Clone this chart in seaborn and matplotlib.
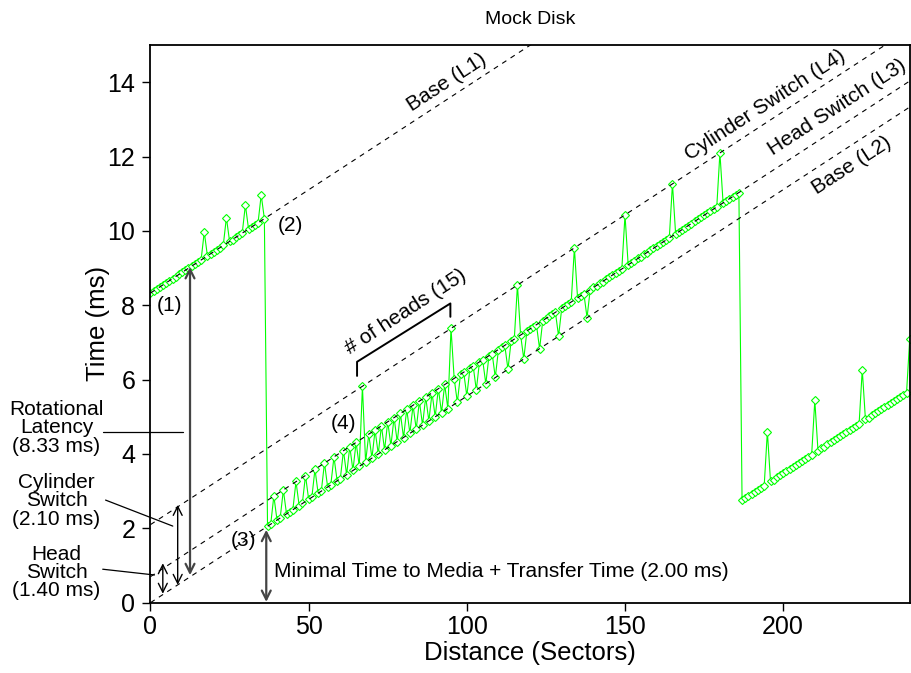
import numpy as np
import pandas as pd
import matplotlib.pyplot as plt
import seaborn as sns

sns.set_style("ticks")
plt.rcParams['font.family'] = ['Liberation Sans', 'DejaVu Sans']
plt.rcParams['text.color'] = 'black'
plt.rcParams['axes.labelcolor'] = 'black'
plt.rcParams['xtick.color'] = 'black'
plt.rcParams['ytick.color'] = 'black'

# distance (sectors) and measured time (ms), one point per sector
distance = np.arange(0, 241)

# 0..36 : too close, one full rotation (on L1)
time_a = [8.33, 8.39, 8.44, 8.50, 8.55, 8.61, 8.66, 8.72, 8.77, 8.83,
          8.89, 8.94, 9.00, 9.05, 9.11, 9.16, 9.22, 9.97, 9.33, 9.39,
          9.44, 9.50, 9.55, 9.61, 10.36, 9.72, 9.77, 9.83, 9.89, 9.94,
          10.70, 10.05, 10.11, 10.16, 10.22, 10.97, 10.33]
# 37..186 : L2 / L3 zigzag with cylinder switch spikes
time_b = [2.06, 2.11, 2.87,
          2.22, 2.28, 3.03, 2.39, 2.44, 2.50, 3.26, 2.61, 2.67, 3.42,
          2.78, 2.83, 3.59, 2.94, 3.00, 3.76, 3.11, 3.17, 3.92, 3.28,
          3.33, 4.09, 3.44, 4.20, 3.56, 4.31, 3.67, 5.82, 3.78, 4.53,
          3.89, 4.64, 4.00, 4.76, 4.11, 4.87, 4.22, 4.98, 4.33, 5.09,
          4.44, 5.20, 4.56, 5.31, 4.67, 5.42, 4.78, 5.53, 4.89, 5.64,
          5.00, 5.76, 5.11, 5.87, 5.22, 7.38, 6.03, 5.39, 6.14, 6.20,
          5.56, 6.31, 6.37, 5.72, 6.48, 6.53, 5.89, 6.64, 6.70, 6.06,
          6.81, 6.87, 6.92, 6.28, 7.03, 7.09, 8.54, 7.20, 6.56, 7.31,
          7.37, 7.42, 7.48, 6.83, 7.59, 7.64, 7.70, 7.76, 7.81, 7.17,
          7.92, 7.98, 8.03, 8.09, 9.54, 8.20, 8.26, 8.31, 7.67, 8.42,
          8.48, 8.53, 8.59, 8.64, 8.70, 8.76, 8.81, 8.87, 8.92, 8.98,
          10.43, 9.09, 9.14, 9.20, 9.26, 9.31, 9.37, 9.42, 9.48, 9.53,
          9.59, 9.64, 9.70, 9.76, 9.81, 11.27, 9.92, 9.98, 10.03, 10.09,
          10.14, 10.20, 10.26, 10.31, 10.37, 10.42, 10.48, 10.53, 10.59, 10.64,
          12.10, 10.76, 10.81, 10.87, 10.92, 10.98, 11.03]
# 187..240 : wrapped around one rotation
time_c = [2.76, 2.81, 2.87,
          2.93, 2.98, 3.04, 3.09, 3.15, 4.60, 3.26, 3.31, 3.37, 3.43,
          3.48, 3.54, 3.59, 3.65, 3.70, 3.76, 3.81, 3.87, 3.93, 3.98,
          5.44, 4.09, 4.15, 4.20, 4.26, 4.31, 4.37, 4.43, 4.48, 4.54,
          4.59, 4.65, 4.70, 4.76, 4.81, 6.27, 4.93, 4.98, 5.04, 5.09,
          5.15, 5.20, 5.26, 5.31, 5.37, 5.43, 5.48, 5.54, 5.59, 5.65,
          7.10]

# reference lines: time at distance 0, common slope
line_start = [8.33, 0.00, 0.70, 2.10]     # L1, L2, L3, L4
line_slope = 2.00 / 36                    # ms per sector

df = pd.DataFrame({'distance': distance, 'time': time_a + time_b + time_c})

fig = plt.figure(figsize=(9.12, 6.73), dpi=100)
ax = fig.add_axes([0.165, 0.1045, 0.8325, 0.8285])

sns.lineplot(data=df, x='distance', y='time', ax=ax, estimator=None, sort=False,
             color='#00ff00', lw=0.8, marker='D', markersize=4.4,
             markerfacecolor='white', markeredgecolor='#00ff00',
             markeredgewidth=0.8, zorder=2)

ends = np.array([0, 240])
for b in line_start:
    ax.plot(ends, b + line_slope * ends, color='k', lw=0.8, ls='--',
            dashes=(4.5, 4.5), zorder=3)

ax.set_xlim(0, 240)
ax.set_ylim(0, 15)
ax.set_xticks([0, 50, 100, 150, 200])
ax.set_yticks(range(0, 15, 2))
ax.tick_params(axis='both', direction='out', length=5.5, width=1, labelsize=18,
               color='black')
ax.tick_params(axis='y', pad=5.5)
ax.tick_params(axis='x', pad=3.5)
for s in ax.spines.values():
    s.set_linewidth(1.3)
    s.set_color('black')

ax.set_title('Mock Disk', fontsize=14, pad=15)
ax.set_xlabel('Distance (Sectors)', fontsize=18.5)
ax.set_ylabel('Time (ms)', fontsize=18.5)
ax.xaxis.set_label_coords(0.5, -0.068)
ax.yaxis.set_label_coords(-0.053, 0.5)

# line labels
rot = 33
ax.text(93.6, 14.0, 'Base (L1)', fontsize=15, rotation=rot, ha='center', va='center', rotation_mode='anchor')
ax.text(194.4, 13.38, 'Cylinder Switch (L4)', fontsize=15, rotation=rot, ha='center', va='center', rotation_mode='anchor')
ax.text(217.1, 13.33, 'Head Switch (L3)', fontsize=15, rotation=rot, ha='center', va='center', rotation_mode='anchor')
ax.text(221.6, 11.75, 'Base (L2)', fontsize=15, rotation=rot, ha='center', va='center', rotation_mode='anchor')
ax.text(80.6, 7.82, '# of heads (15)', fontsize=15, rotation=rot, ha='center', va='center', rotation_mode='anchor')

# bracket over one group of heads
ax.plot([65.3, 65.3, 94.8, 94.8], [6.10, 6.48, 8.05, 7.69], color='k', lw=1.4)

# numbered points
ax.text(6.0, 8.0, '(1)', fontsize=15, ha='center', va='center')
ax.text(44.1, 10.15, '(2)', fontsize=15, ha='center', va='center')
ax.text(29.4, 1.66, '(3)', fontsize=15, ha='center', va='center')
ax.text(61.0, 4.83, '(4)', fontsize=15, ha='center', va='center')

# vertical double arrows
def varrow(x, y0, y1, color, lw):
    ax.annotate('', xy=(x, y1), xytext=(x, y0),
                arrowprops=dict(arrowstyle='<->', mutation_scale=16, color=color,
                                lw=lw, shrinkA=0, shrinkB=0))

varrow(3.9, 0.24, 1.06, 'k', 1.0)
varrow(8.6, 0.48, 2.63, 'k', 1.0)
varrow(12.5, 0.74, 9.03, '#444444', 1.6)
varrow(36.6, 0.02, 1.96, '#444444', 1.6)

ax.text(38.9, 0.83, 'Minimal Time to Media + Transfer Time (2.00 ms)',
        fontsize=15, ha='left', va='center')

# labels to the left of the axes
ax.text(-29.7, 4.70, 'Rotational\nLatency\n(8.33 ms)', fontsize=15, ha='center',
        va='center', linespacing=0.95)
ax.text(-29.7, 2.74, 'Cylinder\nSwitch\n(2.10 ms)', fontsize=15, ha='center',
        va='center', linespacing=0.95)
ax.text(-29.7, 0.81, 'Head\nSwitch\n(1.40 ms)', fontsize=15, ha='center',
        va='center', linespacing=0.95)
ax.plot([-15.1, 10.4], [4.60, 4.60], color='k', lw=0.9, clip_on=False)
ax.plot([-14.2, 7.05], [2.76, 2.06], color='k', lw=0.9, clip_on=False)
ax.plot([-15.1, 1.26], [0.90, 0.745], color='k', lw=0.9, clip_on=False)

fig.savefig('out.png', dpi=100)
